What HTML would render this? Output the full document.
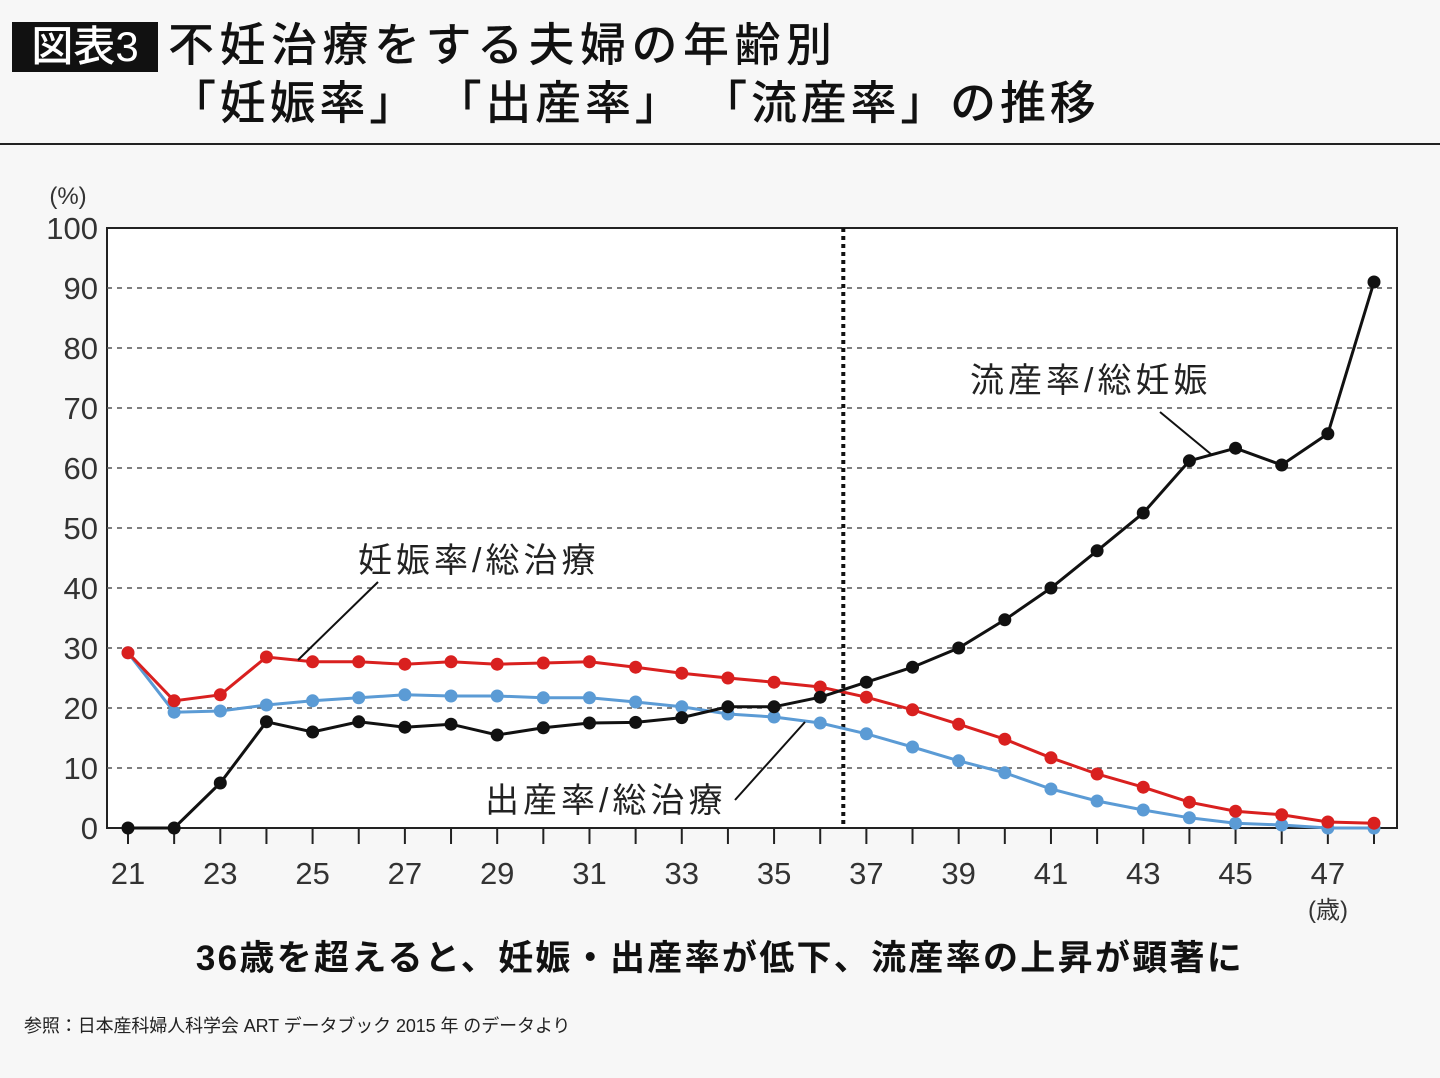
<!DOCTYPE html>
<html><head><meta charset="utf-8">
<style>
body{margin:0;background:#f7f7f7;font-family:"Liberation Sans","Noto Sans CJK JP",sans-serif;}
#wrap{position:relative;width:1440px;height:1078px;overflow:hidden;}
.t{position:absolute;white-space:nowrap;color:#111;}
</style></head><body>
<div id="wrap">
<div class="t" style="left:12px;top:22px;width:146px;height:50px;background:#111;color:#fff;font-size:42px;line-height:50px;text-align:center;font-weight:500;">図表3</div>
<div class="t" style="left:168px;top:16px;font-size:46px;line-height:58px;font-weight:500;letter-spacing:5.5px;">不妊治療をする夫婦の年齢別</div>
<div class="t" style="left:170px;top:74px;font-size:46px;line-height:58px;font-weight:500;letter-spacing:3.8px;">「妊娠率」 「出産率」 「流産率」の推移</div>
<div style="position:absolute;left:0;top:143px;width:1440px;height:2px;background:#222;"></div>
<svg id="chart" width="1440" height="1078" style="position:absolute;left:0;top:0;"></svg>
<div class="t" style="left:0;width:1440px;text-align:center;top:930px;font-size:35px;font-weight:bold;letter-spacing:2.3px;">36歳を超えると、妊娠・出産率が低下、流産率の上昇が顕著に</div>
<div class="t" style="left:24px;top:1012px;font-size:18px;color:#222;letter-spacing:-0.1px;">参照：日本産科婦人科学会 ART データブック 2015 年 のデータより</div>
</div>
<script>
const ages=[21,22,23,24,25,26,27,28,29,30,31,32,33,34,35,36,37,38,39,40,41,42,43,44,45,46,47,48];
const miscarriage=[0,0,7.5,17.7,16,17.7,16.8,17.3,15.5,16.7,17.5,17.6,18.4,20.2,20.2,21.8,24.3,26.8,30,34.7,40,46.2,52.5,61.2,63.3,60.5,65.7,91];
const pregnancy=[29.2,21.2,22.2,28.5,27.7,27.7,27.3,27.7,27.3,27.5,27.7,26.8,25.8,25,24.3,23.5,21.8,19.7,17.3,14.8,11.7,9,6.8,4.3,2.8,2.2,1,0.8];
const birth=[29.2,19.3,19.5,20.5,21.2,21.7,22.2,22,22,21.7,21.7,21,20.2,19,18.5,17.5,15.7,13.5,11.2,9.2,6.5,4.5,3,1.7,0.8,0.5,0,0];
const yTicks=[0,10,20,30,40,50,60,70,80,90,100];
const xTickLabels=[21,23,25,27,29,31,33,35,37,39,41,43,45,47];
const cutoffAge=36.5;

const svg=document.getElementById('chart');
const NS='http://www.w3.org/2000/svg';
const L=107,R=1397,T=228,B=828;
const x=a=>128+(a-21)*(1374-128)/27;
const y=v=>B-(v/100)*(B-T);
function mk(tag,attrs,parent){const e=document.createElementNS(NS,tag);for(const k in attrs)e.setAttribute(k,attrs[k]);(parent||svg).appendChild(e);return e;}

let e=mk('rect',{x:L,y:T,width:R-L,height:B-T,fill:'#fff',stroke:'#222','stroke-width':2});


yTicks.forEach(v=>{
  if(v>0&&v<100){const g=mk('line',{x1:L,x2:R,y1:y(v),y2:y(v),stroke:'#555','stroke-width':1.5,'stroke-dasharray':'5 5'});
  
  }
  const t=mk('text',{x:98,y:y(v)+11,'text-anchor':'end','font-size':31,fill:'#333','font-family':'Liberation Sans, sans-serif'});
  t.textContent=v;
  
  
});
let yt=mk('text',{x:68,y:204,'text-anchor':'middle','font-size':24,fill:'#333'});yt.textContent='(%)';


ages.forEach(a=>{const tk=mk('line',{x1:x(a),x2:x(a),y1:B,y2:B+16,stroke:'#222','stroke-width':2});
  
  });
xTickLabels.forEach(a=>{const t=mk('text',{x:x(a),y:884,'text-anchor':'middle','font-size':31,fill:'#333','font-family':'Liberation Sans, sans-serif'});t.textContent=a;
  
  });
let xu=mk('text',{x:1328,y:918,'text-anchor':'middle','font-size':24,fill:'#333'});xu.textContent='(歳)';


let cl=mk('line',{x1:x(cutoffAge),x2:x(cutoffAge),y1:T,y2:B,stroke:'#111','stroke-width':4,'stroke-dasharray':'4 4'});



function series(vals,color,name){
  const p=mk('polyline',{points:vals.map((v,i)=>x(ages[i])+','+y(v)).join(' '),fill:'none',stroke:color,'stroke-width':3});
  
  
  vals.forEach((v,i)=>{const c=mk('circle',{cx:x(ages[i]),cy:y(v),r:6.5,fill:color});
    
    });
}
series(birth,'#5b9bd5','birth-rate');
series(pregnancy,'#d9201f','pregnancy-rate');
series(miscarriage,'#111','miscarriage-rate');

function label(txt,lx,ly,x1,y1,x2,y2,name){
  const t=mk('text',{x:lx,y:ly,'font-size':34,fill:'#222','letter-spacing':'4'});t.textContent=txt;
  
  
  const l=mk('line',{x1:x1,y1:y1,x2:x2,y2:y2,stroke:'#111','stroke-width':2});
  
  
}
label('流産率/総妊娠',970,392,1160,412,1212,455,'miscarriage-label');
label('妊娠率/総治療',358,572,378,582,298,660,'pregnancy-label');
label('出産率/総治療',485,812,735,800,805,722,'birth-label');
</script>
</body></html>
